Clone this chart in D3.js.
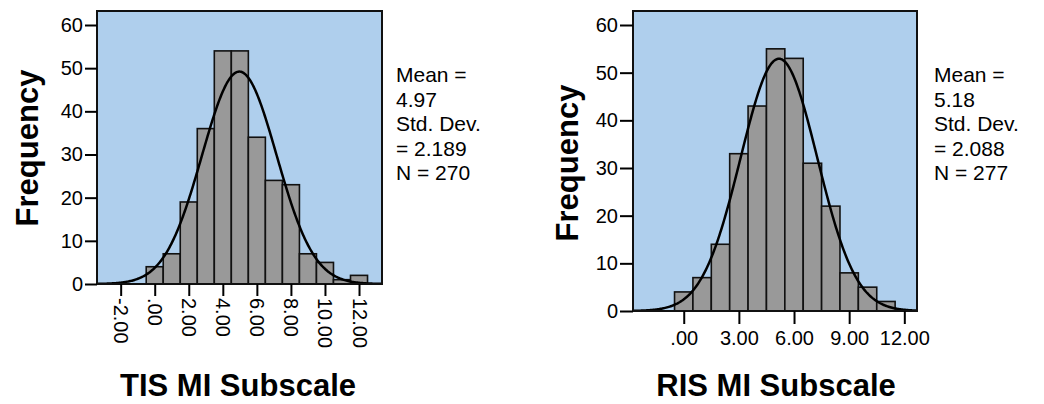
<!DOCTYPE html>
<html>
<head>
<meta charset="utf-8">
<script src="https://cdn.jsdelivr.net/npm/d3@7"></script>
<style>
  body { margin: 0; background: #fff; }
  text { font-family: "Liberation Sans", Arial, sans-serif; fill: #000; }
</style>
</head>
<body>
<div id="chart"></div>
<script>
// TIS MI Subscale histogram (bins of width 1 starting at -0.5)
const tisBinStart = -0.5
const tisCounts = [4, 7, 19, 36, 54, 54, 34, 24, 23, 7, 5, 1, 2]
const tisTicks = [-2, 0, 2, 4, 6, 8, 10, 12]
const tisTickLabels = ["-2.00", ".00", "2.00", "4.00", "6.00", "8.00", "10.00", "12.00"]
const tisMean = 4.97
const tisSD = 2.189
const tisN = 270
const tisStats = ["Mean =", "4.97", "Std. Dev.", "= 2.189", "N = 270"]

// RIS MI Subscale histogram
const risBinStart = -0.5
const risCounts = [4, 7, 14, 33, 43, 55, 53, 31, 22, 8, 5, 2]
const risTicks = [0, 3, 6, 9, 12]
const risTickLabels = [".00", "3.00", "6.00", "9.00", "12.00"]
const risMean = 5.18
const risSD = 2.088
const risN = 277
const risStats = ["Mean =", "5.18", "Std. Dev.", "= 2.088", "N = 277"]

const freqTicks = [0, 10, 20, 30, 40, 50, 60]

const svg = d3.select("#chart")
  .append("svg")
  .attr("width", 1044)
  .attr("height", 404)

function drawPanel(p) {
  let x = d3.scaleLinear().domain(p.xDomain).range([p.left, p.right])
  let y = d3.scaleLinear().domain([0, 60]).range([p.bottom, p.y60])
  let g = svg.append("g")

  // plot background
  g.append("rect")
    .attr("x", p.left).attr("y", p.top)
    .attr("width", p.right - p.left).attr("height", p.bottom - p.top)
    .attr("fill", "#afcfed")

  let bins = p.counts.map((c, i) => ({ x0: p.binStart + i, x1: p.binStart + i + 1, c: c }))

  g.selectAll("rect.bar")
    .data(bins)
    .enter()
    .append("rect")
    .classed("bar", true)
    .attr("x", d => x(d.x0))
    .attr("y", d => y(d.c))
    .attr("width", d => x(d.x1) - x(d.x0))
    .attr("height", d => y(0) - y(d.c))
    .attr("fill", "#999999")
    .attr("stroke", "#111")
    .attr("stroke-width", 1.6)

  // fitted normal curve, scaled to counts (bin width 1)
  let pts = d3.range(p.xDomain[0], p.xDomain[1], 0.05).concat([p.xDomain[1]])
  let normal = v => p.n / (p.sd * Math.sqrt(2 * Math.PI)) * Math.exp(-0.5 * Math.pow((v - p.mean) / p.sd, 2))
  g.append("path")
    .datum(pts)
    .attr("fill", "none")
    .attr("stroke", "#000")
    .attr("stroke-width", 2.5)
    .attr("d", d3.line().x(d => x(d)).y(d => y(normal(d))))

  // frame
  g.append("rect")
    .attr("x", p.left).attr("y", p.top)
    .attr("width", p.right - p.left).attr("height", p.bottom - p.top)
    .attr("fill", "none")
    .attr("stroke", "#111")
    .attr("stroke-width", 2)

  // y axis
  let yAxis = g.append("g")
    .attr("transform", `translate(${p.left}, 0)`)
    .call(d3.axisLeft(y).tickValues(freqTicks).tickSize(p.tick).tickPadding(2).tickFormat(d3.format("d")))
  yAxis.select(".domain").remove()
  yAxis.selectAll("line").attr("stroke", "#000").attr("stroke-width", 2)
  yAxis.selectAll("text").attr("font-size", "20px").attr("fill", "#000")
    .style("font-family", "'Liberation Sans', Arial, sans-serif")

  // x axis
  let xAxis = g.append("g")
    .attr("transform", `translate(0, ${p.bottom})`)
    .call(d3.axisBottom(x).tickValues(p.ticks).tickSize(p.tick).tickFormat((d, i) => p.tickLabels[i]))
  xAxis.select(".domain").remove()
  xAxis.selectAll("line").attr("stroke", "#000").attr("stroke-width", 2)
  let xt = xAxis.selectAll("text").attr("font-size", "20px").attr("fill", "#000")
    .style("font-family", "'Liberation Sans', Arial, sans-serif")
  if (p.rotate) {
    xt.attr("transform", "rotate(90)")
      .attr("text-anchor", "start")
      .attr("x", p.tick + 2)
      .attr("y", 0)
      .attr("dy", "0.35em")
  } else {
    xt.attr("dy", 0).attr("y", p.tick + 21)
  }

  // axis titles
  g.append("text")
    .attr("transform", `translate(${p.yTitleX}, ${p.yTitleY}) rotate(-90)`)
    .attr("text-anchor", "middle")
    .attr("font-size", "31px")
    .attr("font-weight", "bold")
    .text("Frequency")

  g.append("text")
    .attr("x", p.titleX)
    .attr("y", 396)
    .attr("text-anchor", "middle")
    .attr("font-size", "31px")
    .attr("font-weight", "bold")
    .text(p.title)

  // stats
  g.selectAll("text.stat")
    .data(p.stats)
    .enter()
    .append("text")
    .classed("stat", true)
    .attr("x", p.statsX)
    .attr("y", (d, i) => 82 + i * 24.5)
    .attr("font-size", "21px")
    .text(d => d)
}

drawPanel({
  binStart: tisBinStart, counts: tisCounts, ticks: tisTicks, tickLabels: tisTickLabels,
  mean: tisMean, sd: tisSD, n: tisN, stats: tisStats,
  xDomain: [-3.39, 13.35], left: 97, right: 382, top: 11, bottom: 284, y60: 25,
  tick: 12, rotate: true, yTitleX: 38, yTitleY: 148, titleX: 238, title: "TIS MI Subscale", statsX: 396
})

drawPanel({
  binStart: risBinStart, counts: risCounts, ticks: risTicks, tickLabels: risTickLabels,
  mean: risMean, sd: risSD, n: risN, stats: risStats,
  xDomain: [-2.76, 12.69], left: 633, right: 917, top: 11, bottom: 311, y60: 25,
  tick: 13, rotate: false, yTitleX: 578, yTitleY: 163, titleX: 776, title: "RIS MI Subscale", statsX: 934
})
</script>
</body>
</html>
